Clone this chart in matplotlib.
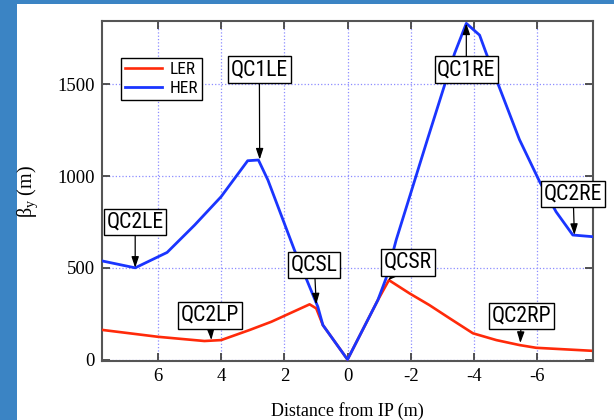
import matplotlib
matplotlib.use("Agg")
import matplotlib.pyplot as plt
from matplotlib import font_manager
from matplotlib.font_manager import FontProperties
from matplotlib.patches import Rectangle

# beta_y along the beam line
her_x = [7.75, 6.72, 5.71, 4.84, 4.0, 3.16, 2.82, 2.52, 1.68, 0.94, 0.78, 0.0,
         -0.96, -1.22, -1.54, -2.54, -3.39, -3.76, -4.18, -4.39, -5.44, -6.08,
         -6.6, -7.13, -7.75]
her_y = [537, 500, 584, 733, 888, 1084, 1088, 979, 597, 288, 188, 0,
         324, 443, 652, 1206, 1670, 1833, 1769, 1670, 1200, 970,
         806, 679, 670]

ler_x = [7.74, 6.0, 4.53, 4.0, 3.1, 2.41, 1.2, 0.99, 0.78, 0.0, -0.96, -1.31,
         -1.96, -2.59, -3.23, -3.97, -4.71, -5.44, -5.97, -7.7]
ler_y = [161, 124, 101, 106, 161, 206, 301, 279, 188, 0, 324, 433,
         361, 297, 225, 143, 106, 79, 64, 48]

# magnet labels: name, arrow target, box centre
magnets = ["QC2LE", "QC1LE", "QCSL", "QCSR", "QC1RE", "QC2RE", "QC2LP", "QC2RP"]
mag_target = [(6.72, 500), (2.78, 1090), (0.99, 300), (-1.28, 432),
              (-3.76, 1833), (-7.18, 679), (4.31, 106), (-5.47, 90)]
mag_box = [(6.72, 750), (2.79, 1581), (1.05, 517), (-1.91, 529),
           (-3.76, 1581), (-7.14, 901), (4.36, 240), (-5.5, 237)]

xticks = [6, 4, 2, 0, -2, -4, -6]
yticks = [0, 500, 1000, 1500]

plt.rcParams["font.family"] = "Liberation Serif"
plt.rcParams["axes.unicode_minus"] = False
plt.rcParams["mathtext.fontset"] = "custom"
plt.rcParams["mathtext.rm"] = "Liberation Serif"
plt.rcParams["mathtext.it"] = "Liberation Serif:italic"

fig = plt.figure(figsize=(6.14, 4.2), dpi=100, facecolor="#3b84c4")
fig.add_artist(Rectangle((17 / 614, 0), 1, 1 - 4 / 420, transform=fig.transFigure,
                         facecolor="white", edgecolor="none", zorder=0))
ax = fig.add_axes([101.7 / 614, 1 - 361 / 420, 491 / 614, 340 / 420])

# the labels use a narrow sans; pick one if it is installed
names = {f.name for f in font_manager.fontManager.ttflist}
box_fp = FontProperties(family="Liberation Sans")
narrow = False
for fam in ["Liberation Sans Narrow", "DejaVu Sans Condensed", "Roboto Condensed",
            "Open Sans Condensed"]:
    if fam in names:
        box_fp = FontProperties(family=fam)
        narrow = True
        break
if not narrow:
    if any(f.name == "DejaVu Sans" and f.stretch == "condensed"
           for f in font_manager.fontManager.ttflist):
        box_fp = FontProperties(family="DejaVu Sans", stretch="condensed")
        narrow = True

renderer = fig.canvas.get_renderer()


def fit_size(text, width_px):
    fp = box_fp.copy()
    fp.set_size(10)
    t = fig.text(0, 0, text, fontproperties=fp)
    w = t.get_window_extent(renderer=renderer).width
    t.remove()
    return 10 * width_px / w


box_size = fit_size("QC2LE", 57) * (1.0 if narrow else 1.06)
leg_size = fit_size("LER", 26) * (1.0 if narrow else 1.08)
label_fp = box_fp.copy()
label_fp.set_size(box_size)
leg_fp = box_fp.copy()
leg_fp.set_size(leg_size)
leg_px = leg_size * 100 / 72

ax.plot(ler_x, ler_y, color="#ff2a0a", lw=1.9, label="LER", zorder=3)
ax.plot(her_x, her_y, color="#1a35ff", lw=2.0, label="HER", zorder=4)

ax.set_xlim(7.78, -7.76)
ax.set_ylim(-8, 1846)
ax.set_xticks(xticks)
ax.set_yticks(yticks)
ax.grid(True, color="#8c8cff", ls=":", lw=0.9)
ax.tick_params(direction="in", length=6, width=1.3, color="#444444",
               top=True, right=True, labelsize=13.5, pad=5)
for s in ax.spines.values():
    s.set_color("#555555")
    s.set_linewidth(1.5)

ax.set_xlabel("Distance from IP (m)", fontsize=13, labelpad=12)
ax.set_ylabel(r"$\mathrm{\beta_y}$ (m)", fontsize=14.5)
ax.yaxis.set_label_coords(-0.125, 0.5)

for name, tgt, box in zip(magnets, mag_target, mag_box):
    ax.annotate(name, xy=tgt, xytext=box, ha="center", va="center",
                fontproperties=label_fp, zorder=6,
                bbox=dict(boxstyle="square,pad=0.12", fc="white", ec="black", lw=1),
                arrowprops=dict(arrowstyle="-|>,head_length=0.6,head_width=0.2",
                                color="black", lw=0.9, mutation_scale=11,
                                shrinkA=0, shrinkB=0))

leg = ax.legend(loc="upper left", bbox_to_anchor=(19.3 / 491, 1 - 37.3 / 340),
                prop=leg_fp, frameon=True, fancybox=False, edgecolor="black",
                framealpha=1, handlelength=37 / leg_px, borderpad=4 / leg_px,
                labelspacing=0.2, handletextpad=7.5 / leg_px, borderaxespad=0)
leg.get_frame().set_linewidth(1)

fig.savefig("out.png", dpi=100, facecolor=fig.get_facecolor())
